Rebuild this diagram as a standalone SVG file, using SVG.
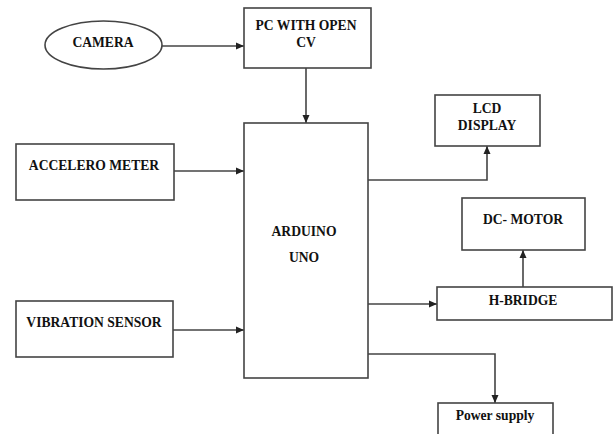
<svg xmlns="http://www.w3.org/2000/svg" width="613" height="434" viewBox="0 0 613 434">
<style>
.box{fill:#fff;stroke:#444;stroke-width:1.6}
.t{font-family:"Liberation Serif","Times New Roman",serif;font-weight:bold;font-size:13.6px;fill:#111;text-anchor:middle}
.c{fill:none;stroke:#444;stroke-width:1.6}
</style>
<defs>
<marker id="ah" viewBox="0 0 8 8" refX="8" refY="4" markerWidth="8" markerHeight="8" markerUnits="userSpaceOnUse" orient="auto">
<path d="M0,0.5 L8,4 L0,7.5 Z" fill="#222"/>
</marker>
</defs>
<rect width="613" height="434" fill="#fff"/>
<g id="connectors">
<path class="c" d="M162,46 H244" marker-end="url(#ah)"/>
<path class="c" d="M306,68 V123" marker-end="url(#ah)"/>
<path class="c" d="M174,171 H244" marker-end="url(#ah)"/>
<path class="c" d="M173,330 H244" marker-end="url(#ah)"/>
<path class="c" d="M368,180 H487 V146" marker-end="url(#ah)"/>
<path class="c" d="M368,304 H437" marker-end="url(#ah)"/>
<path class="c" d="M523,287 V250" marker-end="url(#ah)"/>
<path class="c" d="M368,354 H495 V403" marker-end="url(#ah)"/>
</g>
<g id="camera">
<ellipse class="box" cx="103.5" cy="45" rx="58.5" ry="24"/>
<text class="t" x="103" y="46.5">CAMERA</text>
</g>
<g id="pc">
<rect class="box" x="244" y="8" width="127" height="60"/>
<text class="t" x="306" y="30">PC WITH OPEN</text>
<text class="t" x="306" y="47">CV</text>
</g>
<g id="accelerometer">
<rect class="box" x="16" y="144" width="158" height="56"/>
<text class="t" x="94" y="169.5">ACCELERO METER</text>
</g>
<g id="vibration">
<rect class="box" x="16" y="301" width="157" height="56"/>
<text class="t" x="94" y="326.5">VIBRATION SENSOR</text>
</g>
<g id="arduino">
<rect class="box" x="244" y="123" width="124" height="255"/>
<text class="t" x="304" y="235.5">ARDUINO</text>
<text class="t" x="304" y="261.5">UNO</text>
</g>
<g id="lcd">
<rect class="box" x="435" y="95" width="105" height="51"/>
<text class="t" x="487" y="112.5">LCD</text>
<text class="t" x="487" y="129.5">DISPLAY</text>
</g>
<g id="dcmotor">
<rect class="box" x="462" y="198" width="123" height="52"/>
<text class="t" x="523" y="223.5">DC- MOTOR</text>
</g>
<g id="hbridge">
<rect class="box" x="437" y="287" width="175" height="33"/>
<text class="t" x="523" y="304.5">H-BRIDGE</text>
</g>
<g id="power">
<rect class="box" x="438" y="403" width="115" height="40"/>
<text class="t" x="495" y="419.5">Power supply</text>
</g>
</svg>
